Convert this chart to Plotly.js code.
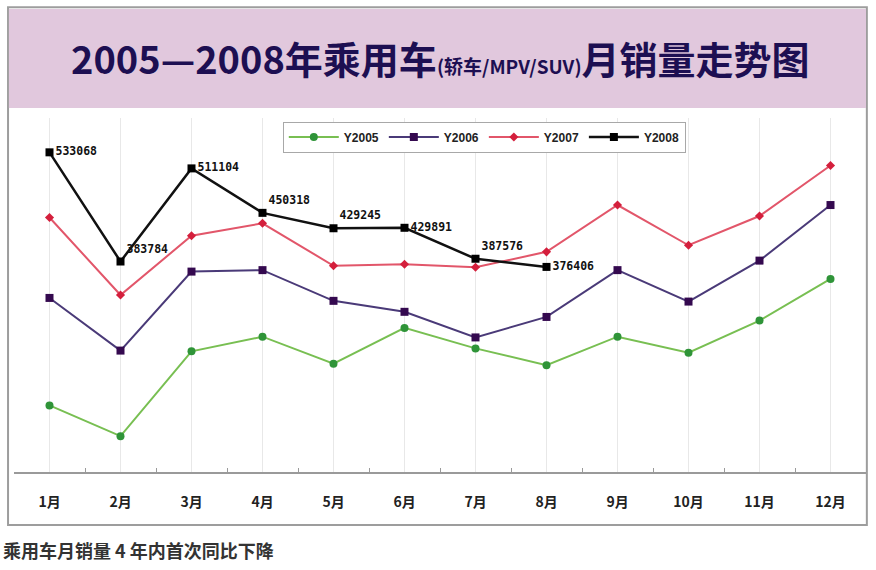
<!DOCTYPE html>
<html>
<head>
<meta charset="utf-8">
<script src="https://cdn.plot.ly/plotly-3.0.1.min.js"></script>
<style>
  html, body { margin: 0; padding: 0; background: #fff; }
  #chart { width: 876px; height: 570px; }
</style>
</head>
<body>
<div id="chart"></div>
<script>
var months = ['1月', '2月', '3月', '4月', '5月', '6月', '7月', '8月', '9月', '10月', '11月', '12月'];

var y2005 = [187000, 145000, 261000, 281000, 244000, 293000, 265000, 242000, 281000, 259000, 303000, 360000];
var y2006 = [334000, 262000, 370000, 372000, 330000, 315000, 280000, 308000, 372000, 329000, 385000, 461000];
var y2007 = [444000, 338000, 419000, 436000, 378000, 380000, 376000, 397000, 461000, 406000, 446000, 515000];
var y2008 = [533068, 383784, 511104, 450318, 429245, 429891, 387576, 376406];

var labelPos2008 = ['middle right', 'top right', 'middle right', 'top right',
                    'top right', 'middle right', 'top right', 'middle right'];

var configOptions = {
    staticPlot: true,
    displayModeBar: false
};

function makeTrace(name, values, lineColor, markerColor, symbol, size) {
    return {
        type: 'scatter',
        mode: 'lines+markers',
        name: name,
        x: months.slice(0, values.length),
        y: values,
        line: { color: lineColor, width: 2 },
        marker: { color: markerColor, symbol: symbol, size: size }
    };
}

var t2005 = makeTrace('Y2005', y2005, '#78bf52', '#2f9438', 'circle', 8);
var t2006 = makeTrace('Y2006', y2006, '#4a3a78', '#34094f', 'square', 8);
var t2007 = makeTrace('Y2007', y2007, '#e2566a', '#d41f3c', 'diamond', 7);
var t2008 = makeTrace('Y2008', y2008, '#111111', '#000000', 'square', 8);
t2008.line.width = 2.5;
t2008.mode = 'lines+markers+text';
t2008.text = y2008.map(String);
t2008.textposition = labelPos2008;
t2008.textfont = { family: 'DejaVu Sans Mono', size: 11.5, color: '#111', weight: 'bold' };

// invisible trace so the boundary-tick axis gets drawn
var tickHelper = {
    type: 'scatter', mode: 'markers', x: [0], y: [96000],
    xaxis: 'x2', marker: { opacity: 0 }, showlegend: false, hoverinfo: 'skip'
};

var layout = {
    width: 876,
    height: 570,
    margin: { l: 14, r: 10, t: 118, b: 98, pad: 0 },
    paper_bgcolor: '#ffffff',
    plot_bgcolor: '#ffffff',
    font: { family: 'Noto Sans CJK SC, sans-serif', color: '#333' },
    showlegend: true,
    legend: {
        orientation: 'h',
        x: 0.552, xanchor: 'center',
        y: 0.99, yanchor: 'top',
        bgcolor: '#ffffff',
        bordercolor: '#a8a8a8',
        borderwidth: 1,
        font: { family: 'Liberation Sans, sans-serif', size: 12, color: '#222', weight: 'bold' },
        itemwidth: 50,
        traceorder: 'normal'
    },
    xaxis: {
        type: 'category',
        categoryorder: 'array',
        categoryarray: months,
        range: [-0.5, 11.5],
        showgrid: true,
        gridcolor: '#e8e8e8',
        gridwidth: 1,
        showline: true,
        linecolor: '#9a9a9a',
        linewidth: 2,
        ticks: '',
        ticklabelstandoff: 16,
        tickfont: { family: 'Noto Sans CJK SC', size: 14, color: '#222', weight: 'bold' },
        zeroline: false
    },
    xaxis2: {
        type: 'linear',
        overlaying: 'x',
        anchor: 'y',
        range: [-0.5, 11.5],
        tick0: -0.5,
        dtick: 1,
        ticks: 'inside',
        ticklen: 4,
        tickcolor: '#9a9a9a',
        showticklabels: false,
        showgrid: false,
        zeroline: false,
        showline: false
    },
    yaxis: {
        range: [96000, 580000],
        showgrid: false,
        showline: false,
        showticklabels: false,
        ticks: '',
        zeroline: false
    },
    shapes: [
        // outer frame
        { type: 'rect', xref: 'paper', yref: 'paper',
          x0: -0.007, x1: 1.001, y0: -0.15, y1: 1.313,
          line: { color: '#9d9d9d', width: 2 }, fillcolor: 'rgba(0,0,0,0)', layer: 'below' },
        // title band
        { type: 'rect', xref: 'paper', yref: 'paper',
          x0: -0.006, x1: 1.0, y0: 1.028, y1: 1.308,
          line: { width: 0 }, fillcolor: '#e1c8dd', layer: 'below' }
    ],
    annotations: [
        { xref: 'paper', yref: 'paper', x: 0.5, y: 1.17,
          xanchor: 'center', yanchor: 'middle', showarrow: false,
          text: '<b>2005—2008年乘用车<span style="font-size:19px">(轿车/MPV/SUV)</span>月销量走势图</b>',
          font: { family: 'Noto Sans CJK SC', size: 38, color: '#1d0f52' } },
        { xref: 'paper', yref: 'paper', x: -0.015, y: -0.22,
          xanchor: 'left', yanchor: 'middle', showarrow: false,
          text: '<b>乘用车月销量 4 年内首次同比下降</b>',
          font: { family: 'Noto Sans CJK SC', size: 18, color: '#333' } }
    ]
};

Plotly.newPlot('chart', [t2005, t2006, t2007, t2008, tickHelper], layout, configOptions);
</script>
</body>
</html>
